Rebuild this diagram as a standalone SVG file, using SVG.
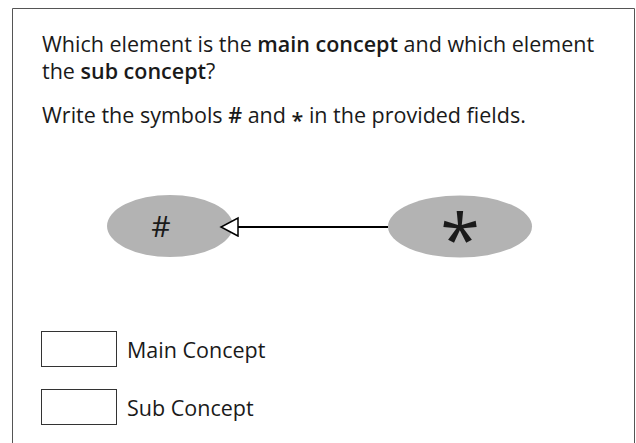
<svg xmlns="http://www.w3.org/2000/svg" width="636" height="443" viewBox="0 0 636 443">
<defs>
<style>
text{font-family:"Open Sans","Noto Sans","Liberation Sans",sans-serif;fill:#1a1a1a}
.t{font-size:21.5px}
.b{font-weight:600}
.node{fill:#b3b3b3}
.field{fill:#fff;stroke:#333;stroke-width:1}
</style>
<marker id="tri" markerWidth="22" markerHeight="22" refX="18" refY="10" orient="auto" markerUnits="userSpaceOnUse">
<path d="M1,1 L18,10 L1,19 Z" fill="#fff" stroke="#000" stroke-width="1.5"/>
</marker>
</defs>
<rect width="636" height="443" fill="#fff"/>
<path d="M12.5,443 V8.5 H634.5 V443" fill="none" stroke="#555" stroke-width="1"/>
<g id="question">
<text class="t" x="42" y="52">Which element is the <tspan class="b">main concept</tspan> and which element</text>
<text class="t" x="42" y="79">the <tspan class="b">sub concept</tspan>?</text>
<text class="t" x="42" y="123">Write the symbols <tspan class="b">#</tspan> and <tspan class="b" dy="5">*</tspan><tspan dy="-5"> in the provided fields.</tspan></text>
</g>
<g id="node-hash">
<ellipse class="node" cx="170" cy="226" rx="63" ry="31"/>
<text x="161" y="237" font-size="30" text-anchor="middle">#</text>
</g>
<g id="node-star">
<ellipse class="node" cx="460" cy="226.5" rx="72" ry="31"/>
<text x="460" y="265" font-size="72" font-weight="500" text-anchor="middle">*</text>
</g>
<g id="connectors">
<line x1="388" y1="227" x2="221" y2="227" stroke="#000" stroke-width="2" marker-end="url(#tri)"/>
</g>
<g id="field-main">
<rect class="field" x="41.5" y="331.5" width="75" height="35"/>
<text class="t" x="127" y="358">Main Concept</text>
</g>
<g id="field-sub">
<rect class="field" x="41.5" y="389.5" width="75" height="35"/>
<text class="t" x="127" y="416">Sub Concept</text>
</g>
</svg>
